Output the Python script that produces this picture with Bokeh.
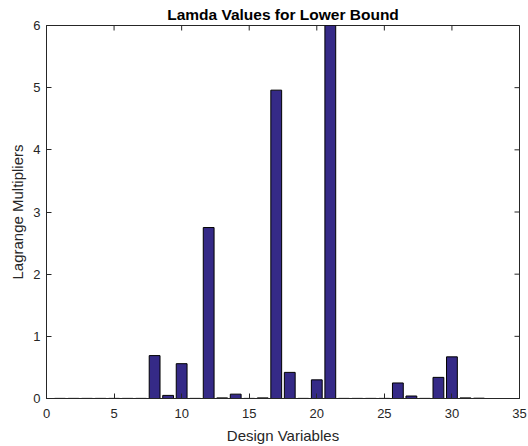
from bokeh.plotting import figure
from bokeh.models import Range1d, FixedTicker, ColumnDataSource
from bokeh.embed import file_html
from bokeh.resources import INLINE

# Design variable index and corresponding lower-bound Lagrange multipliers
variables = list(range(1, 33))
lambdas = [0.002, 0.002, 0.002, 0.002, 0.002, 0.002, 0.002, 0.69,
           0.05, 0.56, 0.002, 2.75, 0.01, 0.07, 0.002, 0.01,
           4.96, 0.42, 0.002, 0.30, 6.05, 0.002, 0.002, 0.002,
           0.002, 0.25, 0.04, 0.002, 0.34, 0.67, 0.01, 0.005]
x_ticks = [0, 5, 10, 15, 20, 25, 30, 35]
y_ticks = [0, 1, 2, 3, 4, 5, 6]

FONT = "Liberation Sans"
TXT = "#262626"

X0, X1, Y0, Y1 = 0, 35, 0, 6
W, H = 528, 446
BL, BR, BT, BB = 46, 9, 25, 48

src = ColumnDataSource(dict(x=variables, top=lambdas))

p = figure(width=W, height=H, output_backend="svg", toolbar_location=None,
           x_range=Range1d(X0, X1), y_range=Range1d(Y0, Y1),
           min_border_left=BL, min_border_right=BR,
           min_border_top=BT, min_border_bottom=BB)

p.vbar(x="x", top="top", bottom=0, width=0.8, source=src,
       fill_color="#352a87", line_color="#000000", line_width=1)

p.title.text = "Lamda Values for Lower Bound"
p.title.align = "center"
p.title.text_font = FONT
p.title.text_font_size = "15.5px"
p.title.text_font_style = "bold"
p.title.text_color = "#000000"
p.title.standoff = 6

p.grid.visible = False
p.outline_line_color = TXT
p.background_fill_color = "white"
p.border_fill_color = "white"

p.xaxis.axis_label = "Design Variables"
p.yaxis.axis_label = "Lagrange Multipliers"
p.xaxis.ticker = FixedTicker(ticks=x_ticks)
p.yaxis.ticker = FixedTicker(ticks=y_ticks)

for ax in p.xaxis + p.yaxis:
    ax.axis_label_text_font = FONT
    ax.axis_label_text_font_size = "15px"
    ax.axis_label_text_font_style = "normal"
    ax.axis_label_text_color = TXT
    ax.major_label_text_font = FONT
    ax.major_label_text_font_size = "13px"
    ax.major_label_text_color = TXT
    ax.major_tick_in = 5
    ax.major_tick_out = 0
    ax.minor_tick_line_color = None
    ax.axis_line_color = TXT
    ax.major_tick_line_color = TXT
    ax.major_label_standoff = 6
    ax.axis_label_standoff = 4

p.xaxis.major_label_standoff = 10
p.xaxis.axis_label_standoff = 6

# Mirrored inward ticks along the top and right edges of the box (5 px long)
frame_w = W - BL - BR
frame_h = H - BT - BB
dy = 5 * (Y1 - Y0) / frame_h
dx = 5 * (X1 - X0) / frame_w
p.segment(x0=x_ticks, x1=x_ticks, y0=[Y1] * len(x_ticks), y1=[Y1 - dy] * len(x_ticks),
          line_color=TXT, line_width=1)
p.segment(x0=[X1] * len(y_ticks), x1=[X1 - dx] * len(y_ticks), y0=y_ticks, y1=y_ticks,
          line_color=TXT, line_width=1)

open("out.html", "w").write(file_html(p, INLINE))
